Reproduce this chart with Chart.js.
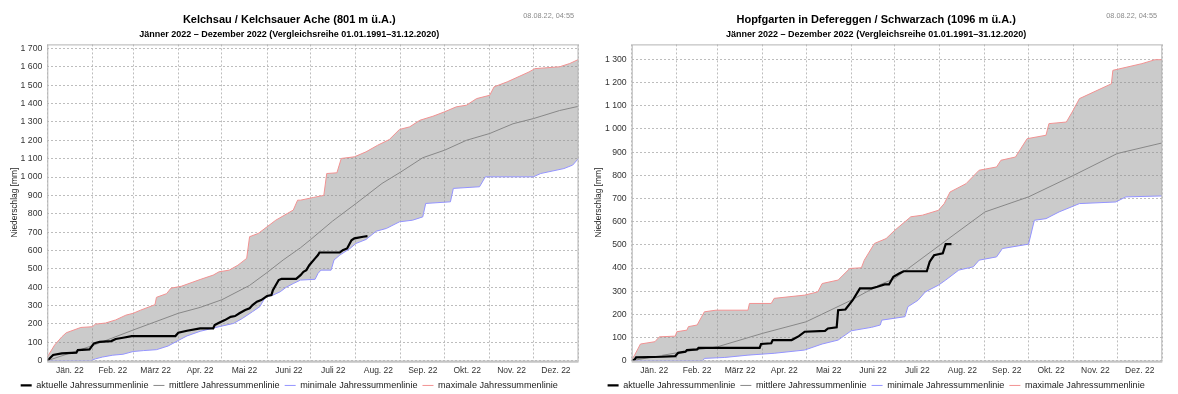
<!DOCTYPE html>
<html><head><meta charset="utf-8">
<script src="https://cdn.jsdelivr.net/npm/chart.js@4/dist/chart.umd.min.js"></script>
<style>
html,body{margin:0;padding:0;background:#fff;}
.wrap{display:flex;width:1178px;height:394px;}
.c1{position:relative;width:590px;height:394px;}
.c2{position:relative;width:588px;height:394px;}
</style></head><body>
<div class="wrap"><div class="c1"><canvas id="k"></canvas></div><div class="c2"><canvas id="h"></canvas></div></div>
<script>
const FONT = "'Liberation Sans', Arial, sans-serif";
const monthStarts = [0,31,59,90,120,151,181,212,243,273,304,334,365];
const monthLabels = ['Jän. 22','Feb. 22','März 22','Apr. 22','Mai 22','Juni 22','Juli 22','Aug. 22','Sep. 22','Okt. 22','Nov. 22','Dez. 22'];
const seriesNames = ['aktuelle Jahressummenlinie','mittlere Jahressummenlinie','minimale Jahressummenlinie','maximale Jahressummenlinie'];
const subtitleText = 'Jänner 2022 – Dezember 2022 (Vergleichsreihe 01.01.1991–31.12.2020)';
const stampText = '08.08.22, 04:55';

// Kelchsau / Kelchsauer Ache
const kelTitle = 'Kelchsau / Kelchsauer Ache (801 m ü.A.)';
const kelYMax = 1722;
const kelActDays = [0,4,10,20,21,29,32,36,44,47,52,58,88,90,96,105,114,115,118,122,126,129,132,136,139,141,144,147,151,154,155,159,161,171,174,176,178,180,184,186,187,201,203,206,209,211,217,220];
const kelActVals = [0,31,40,44,58,62,94,103,107,118,125,134,134,152,163,176,176,194,207,221,239,243,258,276,285,303,321,330,352,357,384,439,446,446,466,484,493,520,557,575,589,589,602,611,656,666,675,678];
const kelMeanDays = [0,31,59,90,105,120,139,151,162,174,181,196,212,230,243,258,273,288,304,320,334,352,365];
const kelMeanVals = [0,82,167,258,290,332,410,480,548,615,660,760,855,965,1028,1105,1146,1200,1237,1290,1318,1362,1385];
const kelMinDays = [0,30,33,38,45,52,59,66,75,83,90,96,105,118,128,134,141,146,150,155,160,164,169,174,184,186,188,195,197,201,208,212,219,226,233,242,251,258,260,277,279,297,301,334,339,355,361,365];
const kelMinVals = [0,0,10,20,30,35,50,55,60,80,110,135,160,185,203,230,267,294,348,357,375,399,420,439,443,475,493,493,548,575,611,638,660,705,720,756,765,783,856,865,938,947,1001,1001,1019,1046,1065,1101];
const kelMaxDays = [0,5,10,13,23,31,33,40,47,54,59,64,74,75,82,85,92,105,114,118,125,131,137,139,145,151,157,169,172,174,183,190,192,199,202,211,219,227,235,242,249,256,265,273,281,288,295,304,307,316,331,335,352,359,365];
const kelMaxVals = [20,85,130,152,181,185,199,205,222,248,258,275,305,345,365,395,405,442,466,484,493,520,557,675,693,729,765,820,874,874,889,900,1019,1023,1101,1110,1137,1173,1204,1259,1273,1309,1331,1355,1382,1391,1427,1445,1491,1518,1572,1590,1600,1618,1640];

// Hopfgarten in Defereggen / Schwarzach
const hopTitle = 'Hopfgarten in Defereggen / Schwarzach (1096 m ü.A.)';
const hopYMax = 1365;
const hopActDays = [0,2,3,21,30,32,37,38,45,46,88,89,96,97,110,115,119,133,135,141,142,147,152,157,165,169,174,177,180,184,187,203,205,208,214,216,220];
const hopActVals = [0,5,14,17,20,34,39,46,49,55,55,72,75,89,89,106,125,129,139,144,218,221,261,312,312,319,329,329,362,376,386,386,427,455,463,503,503];
const hopMeanDays = [0,31,59,90,120,151,170,181,212,243,273,304,334,365];
const hopMeanVals = [0,34,60,118,168,261,326,355,499,642,707,800,894,940];
const hopMinDays = [0,49,50,64,80,98,119,131,142,151,165,171,172,188,190,197,202,211,216,225,235,239,251,255,273,277,285,294,308,333,340,365];
const hopMinVals = [0,0,10,14,24,32,46,72,89,129,144,154,175,190,233,261,297,326,348,391,405,434,448,484,503,606,613,642,678,685,707,711];
const hopMaxDays = [0,2,6,16,19,30,31,38,39,45,50,58,80,81,96,98,119,128,131,142,150,158,160,167,175,181,192,200,211,215,219,230,239,251,254,264,272,285,287,299,303,308,330,331,351,360,365];
const hopMaxVals = [5,24,72,82,103,106,125,132,147,154,211,218,218,247,247,269,283,297,333,348,398,401,434,506,527,563,621,628,649,678,728,764,822,836,865,879,958,973,1023,1030,1073,1131,1195,1253,1282,1299,1299];

const monthMids = monthLabels.map((_, i) => (monthStarts[i] + monthStarts[i + 1]) / 2);
const GRID = '#bdbdbd';
function pts(days, vals) { return days.map((d, i) => ({ x: d, y: vals[i] })); }
function fmtNum(v) { return v >= 1000 ? Math.floor(v / 1000) + ' ' + String(v % 1000).padStart(3, '0') : String(v); }

const framePlugin = {
  id: 'frame',
  afterDatasetsDraw(chart) {
    const { ctx, chartArea: a } = chart;
    ctx.save();
    ctx.strokeStyle = '#b4b4b4'; ctx.lineWidth = 1;
    ctx.strokeRect(a.left + 0.5, a.top + 0.5, a.right - a.left - 1, a.bottom - a.top);
    ctx.strokeStyle = '#c4c4c4'; ctx.lineWidth = 2;
    ctx.beginPath(); ctx.moveTo(a.left, a.bottom + 1); ctx.lineTo(a.right, a.bottom + 1); ctx.stroke();
    ctx.restore();
  }
};
const stampPlugin = {
  id: 'stamp',
  afterDraw(chart, args, opts) {
    const ctx = chart.ctx;
    ctx.save();
    ctx.font = '7.3px ' + FONT; ctx.fillStyle = '#8a8a8a';
    ctx.textAlign = 'right'; ctx.textBaseline = 'middle';
    ctx.fillText(opts.text, opts.x, opts.y);
    ctx.restore();
  }
};

function makeChart(id, cfg) {
  const datasets = [
    { label: seriesNames[0], data: pts(cfg.act[0], cfg.act[1]), borderColor: '#000', borderWidth: 2.2, order: 0 },
    { label: seriesNames[1], data: pts(cfg.mean[0], cfg.mean[1]), borderColor: '#888', borderWidth: 1, order: 1 },
    { label: seriesNames[2], data: pts(cfg.min[0], cfg.min[1]), borderColor: '#9494ff', borderWidth: 1, order: 2 },
    { label: seriesNames[3], data: pts(cfg.max[0], cfg.max[1]), borderColor: '#f29292', borderWidth: 1, order: 3,
      fill: { target: 2 }, backgroundColor: 'rgba(140,140,140,0.45)' }
  ];
  return new Chart(document.getElementById(id), {
    type: 'line',
    data: { datasets },
    options: {
      animation: false, responsive: true, maintainAspectRatio: false,
      elements: { point: { radius: 0 }, line: { tension: 0 } },
      layout: { padding: { left: 0, right: cfg.padRight, top: 0, bottom: -6 } },
      plugins: {
        title: { display: true, text: cfg.title, color: '#000', font: { family: FONT, size: 11, weight: 'bold' }, padding: { top: 13, bottom: 0 } },
        subtitle: { display: true, text: subtitleText, color: '#000', font: { family: FONT, size: 9, weight: 'bold' }, padding: { top: 3, bottom: 4.4 } },
        legend: { position: 'bottom', labels: {
          usePointStyle: true, pointStyle: 'line', pointStyleWidth: 11, boxHeight: 9.1, padding: 5, color: '#222', font: { family: FONT, size: 9.1 },
          generateLabels: (ch) => ch.data.datasets.map((ds, i) => ({
            text: ds.label, strokeStyle: ds.borderColor, fillStyle: ds.borderColor, lineWidth: ds.borderWidth,
            pointStyle: 'line', hidden: false, datasetIndex: i, fontColor: '#222'
          }))
        } },
        tooltip: { enabled: false },
        stamp: { text: stampText, x: cfg.stampX, y: 16 }
      },
      scales: {
        x: {
          type: 'linear', min: 0, max: 365,
          afterBuildTicks: (s) => { s.ticks = monthStarts.concat(monthMids).sort((a, b) => a - b).map(v => ({ value: v })); },
          afterFit: (s) => { s.height = 15.2; },
          grid: { drawTicks: false, color: (c) => (c.tick && monthStarts.includes(c.tick.value)) ? GRID : 'rgba(0,0,0,0)', lineWidth: 1 },
          border: { display: false, dash: [2, 2] },
          ticks: { autoSkip: false, maxRotation: 0, minRotation: 0, padding: 5, color: '#333', font: { family: FONT, size: 8.5 },
            callback: (v) => { const i = monthMids.indexOf(v); return i >= 0 ? monthLabels[i] : ''; } }
        },
        y: {
          type: 'linear', min: 0, max: cfg.yMax,
          afterFit: (s) => { s.width = cfg.yWidth; },
          grid: { drawTicks: false, color: GRID, lineWidth: 1 },
          border: { display: false, dash: [2, 2] },
          ticks: { stepSize: 100, includeBounds: false, padding: 5, color: '#333', font: { family: FONT, size: 8.7 }, callback: (v) => fmtNum(v) },
          title: { display: true, text: 'Niederschlag [mm]', color: '#222', font: { family: FONT, size: 8.4 }, padding: { top: cfg.titlePad, bottom: 0 } }
        }
      }
    },
    plugins: [framePlugin, stampPlugin]
  });
}

makeChart('k', { title: kelTitle, yMax: kelYMax, yWidth: 47.3, padRight: 11.5, titlePad: 9.2, stampX: 574,
  act: [kelActDays, kelActVals], mean: [kelMeanDays, kelMeanVals], min: [kelMinDays, kelMinVals], max: [kelMaxDays, kelMaxVals] });
makeChart('h', { title: hopTitle, yMax: hopYMax, yWidth: 41.7, padRight: 15.7, titlePad: 3.9, stampX: 567,
  act: [hopActDays, hopActVals], mean: [hopMeanDays, hopMeanVals], min: [hopMinDays, hopMinVals], max: [hopMaxDays, hopMaxVals] });
</script>
</body></html>
